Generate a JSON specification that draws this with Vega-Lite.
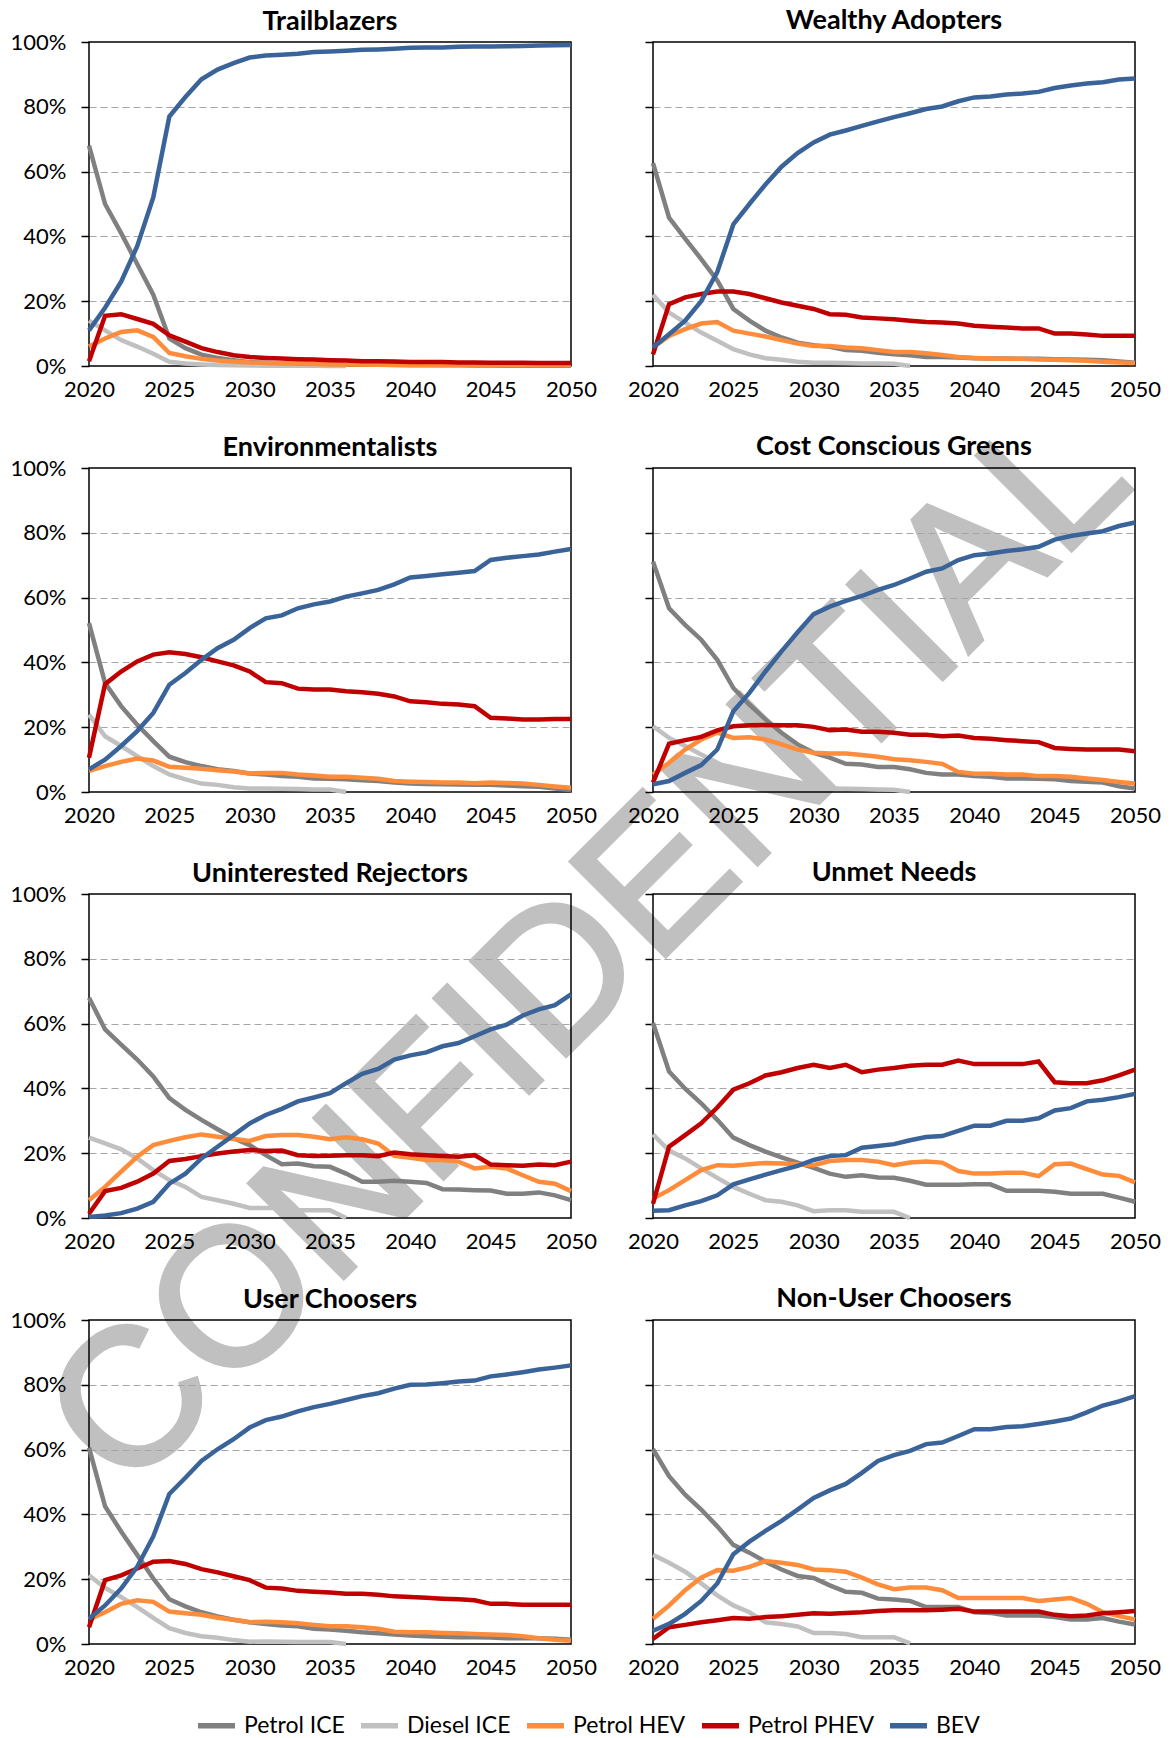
{
"$schema": "https://vega.github.io/schema/vega-lite/v6.json",
"background": "white",
"padding": {"left": 9, "top": 6, "right": 2, "bottom": 2},
"bounds": "flush",
"columns": 2,
"spacing": {"row": 102, "column": 82},
"config": {
  "font": "Lato",
  "view": {"stroke": "#000000", "strokeWidth": 1.5},
  "title": {"font": "Lato", "fontSize": 27, "fontWeight": "bold", "color": "#000000", "anchor": "middle", "frame": "group"},
  "axisX": {"labelFont": "Lato", "labelFontSize": 22, "labelColor": "#000000", "ticks": false, "grid": false, "domain": false, "labelFlush": false, "labelPadding": 13, "labelOverlap": false},
  "axisY": {"labelFont": "Lato", "labelFontSize": 22, "labelColor": "#000000", "tickSize": 8, "tickColor": "#000000", "tickWidth": 1.5, "labelPadding": 15, "domain": false, "grid": true, "gridColor": "#A6A6A6", "gridDash": [7, 4], "gridWidth": 1.2},
  "legend": {"orient": "bottom", "direction": "horizontal", "symbolType": "stroke", "symbolStrokeWidth": 5.5, "symbolSize": 1369, "labelFont": "Lato", "labelFontSize": 23, "labelColor": "#000000", "labelOffset": 6, "columnPadding": 5, "offset": 25, "layout": {"bottom": {"anchor": "middle"}}}
},
"resolve": {"scale": {"color": "shared"}, "legend": {"color": "shared"}},
"datasets": {
"tb": [
{"k":"Petrol ICE","x":2020,"v":68},{"k":"Petrol ICE","x":2021,"v":50},{"k":"Petrol ICE","x":2022,"v":41},{"k":"Petrol ICE","x":2023,"v":31.5},{"k":"Petrol ICE","x":2024,"v":22},{"k":"Petrol ICE","x":2025,"v":8.5},{"k":"Petrol ICE","x":2026,"v":5.5},{"k":"Petrol ICE","x":2027,"v":3.5},{"k":"Petrol ICE","x":2028,"v":2.5},{"k":"Petrol ICE","x":2029,"v":1.8},{"k":"Petrol ICE","x":2030,"v":1.2},{"k":"Petrol ICE","x":2031,"v":1},{"k":"Petrol ICE","x":2032,"v":0.8},{"k":"Petrol ICE","x":2033,"v":0.7},{"k":"Petrol ICE","x":2034,"v":0.6},{"k":"Petrol ICE","x":2035,"v":0.5},{"k":"Petrol ICE","x":2036,"v":0.45},{"k":"Petrol ICE","x":2037,"v":0.4},{"k":"Petrol ICE","x":2038,"v":0.35},{"k":"Petrol ICE","x":2039,"v":0.3},{"k":"Petrol ICE","x":2040,"v":0.25},{"k":"Petrol ICE","x":2041,"v":0.2},{"k":"Petrol ICE","x":2042,"v":0.2},{"k":"Petrol ICE","x":2043,"v":0.2},{"k":"Petrol ICE","x":2044,"v":0.15},{"k":"Petrol ICE","x":2045,"v":0.15},{"k":"Petrol ICE","x":2046,"v":0.1},{"k":"Petrol ICE","x":2047,"v":0.1},{"k":"Petrol ICE","x":2048,"v":0.1},{"k":"Petrol ICE","x":2049,"v":0.1},{"k":"Petrol ICE","x":2050,"v":0.1},
{"k":"Diesel ICE","x":2020,"v":14},{"k":"Diesel ICE","x":2021,"v":11},{"k":"Diesel ICE","x":2022,"v":8},{"k":"Diesel ICE","x":2023,"v":6},{"k":"Diesel ICE","x":2024,"v":3.8},{"k":"Diesel ICE","x":2025,"v":1.3},{"k":"Diesel ICE","x":2026,"v":0.8},{"k":"Diesel ICE","x":2027,"v":0.5},{"k":"Diesel ICE","x":2028,"v":0.3},{"k":"Diesel ICE","x":2029,"v":0.2},{"k":"Diesel ICE","x":2030,"v":0.15},{"k":"Diesel ICE","x":2031,"v":0.1},{"k":"Diesel ICE","x":2032,"v":0.1},{"k":"Diesel ICE","x":2033,"v":0.08},{"k":"Diesel ICE","x":2034,"v":0.05},{"k":"Diesel ICE","x":2035,"v":0.03},{"k":"Diesel ICE","x":2036,"v":0},
{"k":"Petrol HEV","x":2020,"v":6},{"k":"Petrol HEV","x":2021,"v":8.5},{"k":"Petrol HEV","x":2022,"v":10.5},{"k":"Petrol HEV","x":2023,"v":11},{"k":"Petrol HEV","x":2024,"v":9},{"k":"Petrol HEV","x":2025,"v":4},{"k":"Petrol HEV","x":2026,"v":3},{"k":"Petrol HEV","x":2027,"v":2.2},{"k":"Petrol HEV","x":2028,"v":1.7},{"k":"Petrol HEV","x":2029,"v":1.4},{"k":"Petrol HEV","x":2030,"v":1.1},{"k":"Petrol HEV","x":2031,"v":0.9},{"k":"Petrol HEV","x":2032,"v":0.8},{"k":"Petrol HEV","x":2033,"v":0.7},{"k":"Petrol HEV","x":2034,"v":0.6},{"k":"Petrol HEV","x":2035,"v":0.5},{"k":"Petrol HEV","x":2036,"v":0.5},{"k":"Petrol HEV","x":2037,"v":0.45},{"k":"Petrol HEV","x":2038,"v":0.4},{"k":"Petrol HEV","x":2039,"v":0.4},{"k":"Petrol HEV","x":2040,"v":0.35},{"k":"Petrol HEV","x":2041,"v":0.35},{"k":"Petrol HEV","x":2042,"v":0.3},{"k":"Petrol HEV","x":2043,"v":0.3},{"k":"Petrol HEV","x":2044,"v":0.3},{"k":"Petrol HEV","x":2045,"v":0.25},{"k":"Petrol HEV","x":2046,"v":0.25},{"k":"Petrol HEV","x":2047,"v":0.25},{"k":"Petrol HEV","x":2048,"v":0.2},{"k":"Petrol HEV","x":2049,"v":0.2},{"k":"Petrol HEV","x":2050,"v":0.2},
{"k":"Petrol PHEV","x":2020,"v":1.5},{"k":"Petrol PHEV","x":2021,"v":15.5},{"k":"Petrol PHEV","x":2022,"v":16},{"k":"Petrol PHEV","x":2023,"v":14.5},{"k":"Petrol PHEV","x":2024,"v":13},{"k":"Petrol PHEV","x":2025,"v":9.5},{"k":"Petrol PHEV","x":2026,"v":7.5},{"k":"Petrol PHEV","x":2027,"v":5.5},{"k":"Petrol PHEV","x":2028,"v":4.3},{"k":"Petrol PHEV","x":2029,"v":3.3},{"k":"Petrol PHEV","x":2030,"v":2.8},{"k":"Petrol PHEV","x":2031,"v":2.5},{"k":"Petrol PHEV","x":2032,"v":2.3},{"k":"Petrol PHEV","x":2033,"v":2.1},{"k":"Petrol PHEV","x":2034,"v":2},{"k":"Petrol PHEV","x":2035,"v":1.8},{"k":"Petrol PHEV","x":2036,"v":1.7},{"k":"Petrol PHEV","x":2037,"v":1.5},{"k":"Petrol PHEV","x":2038,"v":1.5},{"k":"Petrol PHEV","x":2039,"v":1.4},{"k":"Petrol PHEV","x":2040,"v":1.2},{"k":"Petrol PHEV","x":2041,"v":1.2},{"k":"Petrol PHEV","x":2042,"v":1.2},{"k":"Petrol PHEV","x":2043,"v":1.1},{"k":"Petrol PHEV","x":2044,"v":1.1},{"k":"Petrol PHEV","x":2045,"v":1},{"k":"Petrol PHEV","x":2046,"v":1},{"k":"Petrol PHEV","x":2047,"v":1},{"k":"Petrol PHEV","x":2048,"v":0.9},{"k":"Petrol PHEV","x":2049,"v":0.9},{"k":"Petrol PHEV","x":2050,"v":0.9},
{"k":"BEV","x":2020,"v":11},{"k":"BEV","x":2021,"v":18},{"k":"BEV","x":2022,"v":26},{"k":"BEV","x":2023,"v":37},{"k":"BEV","x":2024,"v":52},{"k":"BEV","x":2025,"v":77},{"k":"BEV","x":2026,"v":83},{"k":"BEV","x":2027,"v":88.5},{"k":"BEV","x":2028,"v":91.5},{"k":"BEV","x":2029,"v":93.5},{"k":"BEV","x":2030,"v":95.2},{"k":"BEV","x":2031,"v":95.8},{"k":"BEV","x":2032,"v":96.1},{"k":"BEV","x":2033,"v":96.4},{"k":"BEV","x":2034,"v":96.9},{"k":"BEV","x":2035,"v":97.1},{"k":"BEV","x":2036,"v":97.3},{"k":"BEV","x":2037,"v":97.6},{"k":"BEV","x":2038,"v":97.7},{"k":"BEV","x":2039,"v":97.9},{"k":"BEV","x":2040,"v":98.2},{"k":"BEV","x":2041,"v":98.3},{"k":"BEV","x":2042,"v":98.3},{"k":"BEV","x":2043,"v":98.5},{"k":"BEV","x":2044,"v":98.6},{"k":"BEV","x":2045,"v":98.6},{"k":"BEV","x":2046,"v":98.7},{"k":"BEV","x":2047,"v":98.8},{"k":"BEV","x":2048,"v":98.9},{"k":"BEV","x":2049,"v":99},{"k":"BEV","x":2050,"v":99.1}
],
"wa": [
{"k":"Petrol ICE","x":2020,"v":62.6},{"k":"Petrol ICE","x":2021,"v":45.8},{"k":"Petrol ICE","x":2022,"v":39.3},{"k":"Petrol ICE","x":2023,"v":33},{"k":"Petrol ICE","x":2024,"v":26.4},{"k":"Petrol ICE","x":2025,"v":17.6},{"k":"Petrol ICE","x":2026,"v":14},{"k":"Petrol ICE","x":2027,"v":10.9},{"k":"Petrol ICE","x":2028,"v":8.8},{"k":"Petrol ICE","x":2029,"v":7.2},{"k":"Petrol ICE","x":2030,"v":6.4},{"k":"Petrol ICE","x":2031,"v":5.9},{"k":"Petrol ICE","x":2032,"v":4.9},{"k":"Petrol ICE","x":2033,"v":4.7},{"k":"Petrol ICE","x":2034,"v":4.1},{"k":"Petrol ICE","x":2035,"v":3.6},{"k":"Petrol ICE","x":2036,"v":3.3},{"k":"Petrol ICE","x":2037,"v":2.8},{"k":"Petrol ICE","x":2038,"v":2.8},{"k":"Petrol ICE","x":2039,"v":2.6},{"k":"Petrol ICE","x":2040,"v":2.4},{"k":"Petrol ICE","x":2041,"v":2.3},{"k":"Petrol ICE","x":2042,"v":2.3},{"k":"Petrol ICE","x":2043,"v":2.2},{"k":"Petrol ICE","x":2044,"v":2.2},{"k":"Petrol ICE","x":2045,"v":2.1},{"k":"Petrol ICE","x":2046,"v":2},{"k":"Petrol ICE","x":2047,"v":1.9},{"k":"Petrol ICE","x":2048,"v":1.8},{"k":"Petrol ICE","x":2049,"v":1.4},{"k":"Petrol ICE","x":2050,"v":1},
{"k":"Diesel ICE","x":2020,"v":22},{"k":"Diesel ICE","x":2021,"v":16.5},{"k":"Diesel ICE","x":2022,"v":13.4},{"k":"Diesel ICE","x":2023,"v":10.3},{"k":"Diesel ICE","x":2024,"v":7.8},{"k":"Diesel ICE","x":2025,"v":5.2},{"k":"Diesel ICE","x":2026,"v":3.6},{"k":"Diesel ICE","x":2027,"v":2.4},{"k":"Diesel ICE","x":2028,"v":1.9},{"k":"Diesel ICE","x":2029,"v":1.3},{"k":"Diesel ICE","x":2030,"v":1},{"k":"Diesel ICE","x":2031,"v":1},{"k":"Diesel ICE","x":2032,"v":0.9},{"k":"Diesel ICE","x":2033,"v":0.8},{"k":"Diesel ICE","x":2034,"v":0.8},{"k":"Diesel ICE","x":2035,"v":0.7},{"k":"Diesel ICE","x":2036,"v":0},
{"k":"Petrol HEV","x":2020,"v":5.7},{"k":"Petrol HEV","x":2021,"v":9.3},{"k":"Petrol HEV","x":2022,"v":11.4},{"k":"Petrol HEV","x":2023,"v":13.1},{"k":"Petrol HEV","x":2024,"v":13.6},{"k":"Petrol HEV","x":2025,"v":10.9},{"k":"Petrol HEV","x":2026,"v":10},{"k":"Petrol HEV","x":2027,"v":9.1},{"k":"Petrol HEV","x":2028,"v":8},{"k":"Petrol HEV","x":2029,"v":6.9},{"k":"Petrol HEV","x":2030,"v":6.2},{"k":"Petrol HEV","x":2031,"v":6.2},{"k":"Petrol HEV","x":2032,"v":5.7},{"k":"Petrol HEV","x":2033,"v":5.5},{"k":"Petrol HEV","x":2034,"v":4.9},{"k":"Petrol HEV","x":2035,"v":4.3},{"k":"Petrol HEV","x":2036,"v":4.3},{"k":"Petrol HEV","x":2037,"v":3.9},{"k":"Petrol HEV","x":2038,"v":3.4},{"k":"Petrol HEV","x":2039,"v":2.8},{"k":"Petrol HEV","x":2040,"v":2.5},{"k":"Petrol HEV","x":2041,"v":2.3},{"k":"Petrol HEV","x":2042,"v":2.2},{"k":"Petrol HEV","x":2043,"v":2.2},{"k":"Petrol HEV","x":2044,"v":2},{"k":"Petrol HEV","x":2045,"v":1.9},{"k":"Petrol HEV","x":2046,"v":1.8},{"k":"Petrol HEV","x":2047,"v":1.6},{"k":"Petrol HEV","x":2048,"v":1.3},{"k":"Petrol HEV","x":2049,"v":1.1},{"k":"Petrol HEV","x":2050,"v":0.9},
{"k":"Petrol PHEV","x":2020,"v":3.6},{"k":"Petrol PHEV","x":2021,"v":19.1},{"k":"Petrol PHEV","x":2022,"v":21.2},{"k":"Petrol PHEV","x":2023,"v":22.2},{"k":"Petrol PHEV","x":2024,"v":23},{"k":"Petrol PHEV","x":2025,"v":23},{"k":"Petrol PHEV","x":2026,"v":22.2},{"k":"Petrol PHEV","x":2027,"v":20.9},{"k":"Petrol PHEV","x":2028,"v":19.6},{"k":"Petrol PHEV","x":2029,"v":18.6},{"k":"Petrol PHEV","x":2030,"v":17.6},{"k":"Petrol PHEV","x":2031,"v":16},{"k":"Petrol PHEV","x":2032,"v":15.8},{"k":"Petrol PHEV","x":2033,"v":15},{"k":"Petrol PHEV","x":2034,"v":14.7},{"k":"Petrol PHEV","x":2035,"v":14.4},{"k":"Petrol PHEV","x":2036,"v":14},{"k":"Petrol PHEV","x":2037,"v":13.6},{"k":"Petrol PHEV","x":2038,"v":13.4},{"k":"Petrol PHEV","x":2039,"v":13.1},{"k":"Petrol PHEV","x":2040,"v":12.4},{"k":"Petrol PHEV","x":2041,"v":12.1},{"k":"Petrol PHEV","x":2042,"v":11.9},{"k":"Petrol PHEV","x":2043,"v":11.6},{"k":"Petrol PHEV","x":2044,"v":11.6},{"k":"Petrol PHEV","x":2045,"v":10},{"k":"Petrol PHEV","x":2046,"v":10},{"k":"Petrol PHEV","x":2047,"v":9.7},{"k":"Petrol PHEV","x":2048,"v":9.3},{"k":"Petrol PHEV","x":2049,"v":9.3},{"k":"Petrol PHEV","x":2050,"v":9.3},
{"k":"BEV","x":2020,"v":5.7},{"k":"BEV","x":2021,"v":9.8},{"k":"BEV","x":2022,"v":14},{"k":"BEV","x":2023,"v":20},{"k":"BEV","x":2024,"v":29},{"k":"BEV","x":2025,"v":43.7},{"k":"BEV","x":2026,"v":50},{"k":"BEV","x":2027,"v":56},{"k":"BEV","x":2028,"v":61.5},{"k":"BEV","x":2029,"v":65.7},{"k":"BEV","x":2030,"v":69},{"k":"BEV","x":2031,"v":71.4},{"k":"BEV","x":2032,"v":72.7},{"k":"BEV","x":2033,"v":74.1},{"k":"BEV","x":2034,"v":75.5},{"k":"BEV","x":2035,"v":76.8},{"k":"BEV","x":2036,"v":78},{"k":"BEV","x":2037,"v":79.3},{"k":"BEV","x":2038,"v":80.1},{"k":"BEV","x":2039,"v":81.7},{"k":"BEV","x":2040,"v":82.9},{"k":"BEV","x":2041,"v":83.2},{"k":"BEV","x":2042,"v":83.8},{"k":"BEV","x":2043,"v":84.1},{"k":"BEV","x":2044,"v":84.6},{"k":"BEV","x":2045,"v":85.8},{"k":"BEV","x":2046,"v":86.6},{"k":"BEV","x":2047,"v":87.2},{"k":"BEV","x":2048,"v":87.6},{"k":"BEV","x":2049,"v":88.4},{"k":"BEV","x":2050,"v":88.7}
],
"en": [
{"k":"Petrol ICE","x":2020,"v":52.1},{"k":"Petrol ICE","x":2021,"v":33.6},{"k":"Petrol ICE","x":2022,"v":26.5},{"k":"Petrol ICE","x":2023,"v":20.8},{"k":"Petrol ICE","x":2024,"v":15.7},{"k":"Petrol ICE","x":2025,"v":10.9},{"k":"Petrol ICE","x":2026,"v":9.2},{"k":"Petrol ICE","x":2027,"v":8},{"k":"Petrol ICE","x":2028,"v":7},{"k":"Petrol ICE","x":2029,"v":6.5},{"k":"Petrol ICE","x":2030,"v":5.7},{"k":"Petrol ICE","x":2031,"v":5.4},{"k":"Petrol ICE","x":2032,"v":4.9},{"k":"Petrol ICE","x":2033,"v":4.7},{"k":"Petrol ICE","x":2034,"v":4.2},{"k":"Petrol ICE","x":2035,"v":4.1},{"k":"Petrol ICE","x":2036,"v":3.9},{"k":"Petrol ICE","x":2037,"v":3.6},{"k":"Petrol ICE","x":2038,"v":3.4},{"k":"Petrol ICE","x":2039,"v":2.9},{"k":"Petrol ICE","x":2040,"v":2.6},{"k":"Petrol ICE","x":2041,"v":2.5},{"k":"Petrol ICE","x":2042,"v":2.4},{"k":"Petrol ICE","x":2043,"v":2.3},{"k":"Petrol ICE","x":2044,"v":2.2},{"k":"Petrol ICE","x":2045,"v":2.2},{"k":"Petrol ICE","x":2046,"v":2},{"k":"Petrol ICE","x":2047,"v":1.8},{"k":"Petrol ICE","x":2048,"v":1.6},{"k":"Petrol ICE","x":2049,"v":1.1},{"k":"Petrol ICE","x":2050,"v":0.6},
{"k":"Diesel ICE","x":2020,"v":23.9},{"k":"Diesel ICE","x":2021,"v":17.2},{"k":"Diesel ICE","x":2022,"v":14.2},{"k":"Diesel ICE","x":2023,"v":11.1},{"k":"Diesel ICE","x":2024,"v":8},{"k":"Diesel ICE","x":2025,"v":5.4},{"k":"Diesel ICE","x":2026,"v":3.9},{"k":"Diesel ICE","x":2027,"v":2.6},{"k":"Diesel ICE","x":2028,"v":2.2},{"k":"Diesel ICE","x":2029,"v":1.5},{"k":"Diesel ICE","x":2030,"v":1.1},{"k":"Diesel ICE","x":2031,"v":1.1},{"k":"Diesel ICE","x":2032,"v":1},{"k":"Diesel ICE","x":2033,"v":0.9},{"k":"Diesel ICE","x":2034,"v":0.8},{"k":"Diesel ICE","x":2035,"v":0.8},{"k":"Diesel ICE","x":2036,"v":0},
{"k":"Petrol HEV","x":2020,"v":6.5},{"k":"Petrol HEV","x":2021,"v":8},{"k":"Petrol HEV","x":2022,"v":9.3},{"k":"Petrol HEV","x":2023,"v":10.3},{"k":"Petrol HEV","x":2024,"v":9.7},{"k":"Petrol HEV","x":2025,"v":7.8},{"k":"Petrol HEV","x":2026,"v":7.5},{"k":"Petrol HEV","x":2027,"v":7.2},{"k":"Petrol HEV","x":2028,"v":6.7},{"k":"Petrol HEV","x":2029,"v":6.3},{"k":"Petrol HEV","x":2030,"v":5.7},{"k":"Petrol HEV","x":2031,"v":5.9},{"k":"Petrol HEV","x":2032,"v":5.9},{"k":"Petrol HEV","x":2033,"v":5.4},{"k":"Petrol HEV","x":2034,"v":5.1},{"k":"Petrol HEV","x":2035,"v":4.7},{"k":"Petrol HEV","x":2036,"v":4.7},{"k":"Petrol HEV","x":2037,"v":4.4},{"k":"Petrol HEV","x":2038,"v":4.1},{"k":"Petrol HEV","x":2039,"v":3.4},{"k":"Petrol HEV","x":2040,"v":3.2},{"k":"Petrol HEV","x":2041,"v":3.1},{"k":"Petrol HEV","x":2042,"v":2.9},{"k":"Petrol HEV","x":2043,"v":2.9},{"k":"Petrol HEV","x":2044,"v":2.7},{"k":"Petrol HEV","x":2045,"v":2.9},{"k":"Petrol HEV","x":2046,"v":2.8},{"k":"Petrol HEV","x":2047,"v":2.6},{"k":"Petrol HEV","x":2048,"v":2.2},{"k":"Petrol HEV","x":2049,"v":1.7},{"k":"Petrol HEV","x":2050,"v":1.3},
{"k":"Petrol PHEV","x":2020,"v":10.6},{"k":"Petrol PHEV","x":2021,"v":33.3},{"k":"Petrol PHEV","x":2022,"v":37.2},{"k":"Petrol PHEV","x":2023,"v":40.3},{"k":"Petrol PHEV","x":2024,"v":42.4},{"k":"Petrol PHEV","x":2025,"v":43.1},{"k":"Petrol PHEV","x":2026,"v":42.6},{"k":"Petrol PHEV","x":2027,"v":41.6},{"k":"Petrol PHEV","x":2028,"v":40.3},{"k":"Petrol PHEV","x":2029,"v":39.1},{"k":"Petrol PHEV","x":2030,"v":37.2},{"k":"Petrol PHEV","x":2031,"v":33.9},{"k":"Petrol PHEV","x":2032,"v":33.6},{"k":"Petrol PHEV","x":2033,"v":31.9},{"k":"Petrol PHEV","x":2034,"v":31.6},{"k":"Petrol PHEV","x":2035,"v":31.6},{"k":"Petrol PHEV","x":2036,"v":31.1},{"k":"Petrol PHEV","x":2037,"v":30.8},{"k":"Petrol PHEV","x":2038,"v":30.3},{"k":"Petrol PHEV","x":2039,"v":29.5},{"k":"Petrol PHEV","x":2040,"v":28},{"k":"Petrol PHEV","x":2041,"v":27.7},{"k":"Petrol PHEV","x":2042,"v":27.2},{"k":"Petrol PHEV","x":2043,"v":27},{"k":"Petrol PHEV","x":2044,"v":26.5},{"k":"Petrol PHEV","x":2045,"v":22.9},{"k":"Petrol PHEV","x":2046,"v":22.7},{"k":"Petrol PHEV","x":2047,"v":22.4},{"k":"Petrol PHEV","x":2048,"v":22.4},{"k":"Petrol PHEV","x":2049,"v":22.5},{"k":"Petrol PHEV","x":2050,"v":22.5},
{"k":"BEV","x":2020,"v":7},{"k":"BEV","x":2021,"v":10},{"k":"BEV","x":2022,"v":14.2},{"k":"BEV","x":2023,"v":18.8},{"k":"BEV","x":2024,"v":24.4},{"k":"BEV","x":2025,"v":33.1},{"k":"BEV","x":2026,"v":36.7},{"k":"BEV","x":2027,"v":40.8},{"k":"BEV","x":2028,"v":44.4},{"k":"BEV","x":2029,"v":47},{"k":"BEV","x":2030,"v":50.6},{"k":"BEV","x":2031,"v":53.6},{"k":"BEV","x":2032,"v":54.5},{"k":"BEV","x":2033,"v":56.7},{"k":"BEV","x":2034,"v":57.9},{"k":"BEV","x":2035,"v":58.8},{"k":"BEV","x":2036,"v":60.3},{"k":"BEV","x":2037,"v":61.3},{"k":"BEV","x":2038,"v":62.4},{"k":"BEV","x":2039,"v":64.1},{"k":"BEV","x":2040,"v":66.2},{"k":"BEV","x":2041,"v":66.7},{"k":"BEV","x":2042,"v":67.2},{"k":"BEV","x":2043,"v":67.7},{"k":"BEV","x":2044,"v":68.2},{"k":"BEV","x":2045,"v":71.6},{"k":"BEV","x":2046,"v":72.3},{"k":"BEV","x":2047,"v":72.8},{"k":"BEV","x":2048,"v":73.3},{"k":"BEV","x":2049,"v":74.2},{"k":"BEV","x":2050,"v":75}
],
"ccg": [
{"k":"Petrol ICE","x":2020,"v":71.1},{"k":"Petrol ICE","x":2021,"v":56.7},{"k":"Petrol ICE","x":2022,"v":51.6},{"k":"Petrol ICE","x":2023,"v":47},{"k":"Petrol ICE","x":2024,"v":40.8},{"k":"Petrol ICE","x":2025,"v":32.1},{"k":"Petrol ICE","x":2026,"v":27},{"k":"Petrol ICE","x":2027,"v":22.4},{"k":"Petrol ICE","x":2028,"v":18.3},{"k":"Petrol ICE","x":2029,"v":14.7},{"k":"Petrol ICE","x":2030,"v":12.1},{"k":"Petrol ICE","x":2031,"v":10.6},{"k":"Petrol ICE","x":2032,"v":8.7},{"k":"Petrol ICE","x":2033,"v":8.5},{"k":"Petrol ICE","x":2034,"v":7.7},{"k":"Petrol ICE","x":2035,"v":7.7},{"k":"Petrol ICE","x":2036,"v":7},{"k":"Petrol ICE","x":2037,"v":5.9},{"k":"Petrol ICE","x":2038,"v":5.4},{"k":"Petrol ICE","x":2039,"v":5.4},{"k":"Petrol ICE","x":2040,"v":4.9},{"k":"Petrol ICE","x":2041,"v":4.7},{"k":"Petrol ICE","x":2042,"v":4.2},{"k":"Petrol ICE","x":2043,"v":4.2},{"k":"Petrol ICE","x":2044,"v":4.1},{"k":"Petrol ICE","x":2045,"v":3.9},{"k":"Petrol ICE","x":2046,"v":3.4},{"k":"Petrol ICE","x":2047,"v":3.2},{"k":"Petrol ICE","x":2048,"v":2.9},{"k":"Petrol ICE","x":2049,"v":1.8},{"k":"Petrol ICE","x":2050,"v":1.1},
{"k":"Diesel ICE","x":2020,"v":20.3},{"k":"Diesel ICE","x":2021,"v":16.7},{"k":"Diesel ICE","x":2022,"v":14.2},{"k":"Diesel ICE","x":2023,"v":11.6},{"k":"Diesel ICE","x":2024,"v":9},{"k":"Diesel ICE","x":2025,"v":6.5},{"k":"Diesel ICE","x":2026,"v":4.9},{"k":"Diesel ICE","x":2027,"v":3.6},{"k":"Diesel ICE","x":2028,"v":2.9},{"k":"Diesel ICE","x":2029,"v":2},{"k":"Diesel ICE","x":2030,"v":1.3},{"k":"Diesel ICE","x":2031,"v":1.1},{"k":"Diesel ICE","x":2032,"v":1},{"k":"Diesel ICE","x":2033,"v":0.9},{"k":"Diesel ICE","x":2034,"v":0.8},{"k":"Diesel ICE","x":2035,"v":0.7},{"k":"Diesel ICE","x":2036,"v":0},
{"k":"Petrol HEV","x":2020,"v":5.4},{"k":"Petrol HEV","x":2021,"v":9},{"k":"Petrol HEV","x":2022,"v":13.1},{"k":"Petrol HEV","x":2023,"v":16.2},{"k":"Petrol HEV","x":2024,"v":18.3},{"k":"Petrol HEV","x":2025,"v":16.7},{"k":"Petrol HEV","x":2026,"v":16.9},{"k":"Petrol HEV","x":2027,"v":16.2},{"k":"Petrol HEV","x":2028,"v":14.7},{"k":"Petrol HEV","x":2029,"v":13.1},{"k":"Petrol HEV","x":2030,"v":12.1},{"k":"Petrol HEV","x":2031,"v":11.9},{"k":"Petrol HEV","x":2032,"v":11.9},{"k":"Petrol HEV","x":2033,"v":11.4},{"k":"Petrol HEV","x":2034,"v":10.9},{"k":"Petrol HEV","x":2035,"v":10.1},{"k":"Petrol HEV","x":2036,"v":9.8},{"k":"Petrol HEV","x":2037,"v":9.3},{"k":"Petrol HEV","x":2038,"v":8.7},{"k":"Petrol HEV","x":2039,"v":6.2},{"k":"Petrol HEV","x":2040,"v":5.6},{"k":"Petrol HEV","x":2041,"v":5.6},{"k":"Petrol HEV","x":2042,"v":5.4},{"k":"Petrol HEV","x":2043,"v":5.4},{"k":"Petrol HEV","x":2044,"v":4.9},{"k":"Petrol HEV","x":2045,"v":4.9},{"k":"Petrol HEV","x":2046,"v":4.7},{"k":"Petrol HEV","x":2047,"v":4.2},{"k":"Petrol HEV","x":2048,"v":3.7},{"k":"Petrol HEV","x":2049,"v":3.1},{"k":"Petrol HEV","x":2050,"v":2.6},
{"k":"Petrol PHEV","x":2020,"v":2.9},{"k":"Petrol PHEV","x":2021,"v":14.9},{"k":"Petrol PHEV","x":2022,"v":16},{"k":"Petrol PHEV","x":2023,"v":17},{"k":"Petrol PHEV","x":2024,"v":19},{"k":"Petrol PHEV","x":2025,"v":20.3},{"k":"Petrol PHEV","x":2026,"v":20.6},{"k":"Petrol PHEV","x":2027,"v":20.7},{"k":"Petrol PHEV","x":2028,"v":20.6},{"k":"Petrol PHEV","x":2029,"v":20.6},{"k":"Petrol PHEV","x":2030,"v":20.1},{"k":"Petrol PHEV","x":2031,"v":19.1},{"k":"Petrol PHEV","x":2032,"v":19.3},{"k":"Petrol PHEV","x":2033,"v":18.6},{"k":"Petrol PHEV","x":2034,"v":18.6},{"k":"Petrol PHEV","x":2035,"v":18.3},{"k":"Petrol PHEV","x":2036,"v":17.7},{"k":"Petrol PHEV","x":2037,"v":17.7},{"k":"Petrol PHEV","x":2038,"v":17.2},{"k":"Petrol PHEV","x":2039,"v":17.4},{"k":"Petrol PHEV","x":2040,"v":16.7},{"k":"Petrol PHEV","x":2041,"v":16.4},{"k":"Petrol PHEV","x":2042,"v":16},{"k":"Petrol PHEV","x":2043,"v":15.7},{"k":"Petrol PHEV","x":2044,"v":15.4},{"k":"Petrol PHEV","x":2045,"v":13.6},{"k":"Petrol PHEV","x":2046,"v":13.3},{"k":"Petrol PHEV","x":2047,"v":13.1},{"k":"Petrol PHEV","x":2048,"v":13.1},{"k":"Petrol PHEV","x":2049,"v":13.1},{"k":"Petrol PHEV","x":2050,"v":12.6},
{"k":"BEV","x":2020,"v":2.4},{"k":"BEV","x":2021,"v":3.4},{"k":"BEV","x":2022,"v":5.9},{"k":"BEV","x":2023,"v":8.3},{"k":"BEV","x":2024,"v":13.1},{"k":"BEV","x":2025,"v":24.9},{"k":"BEV","x":2026,"v":30.6},{"k":"BEV","x":2027,"v":37.2},{"k":"BEV","x":2028,"v":43.4},{"k":"BEV","x":2029,"v":49.3},{"k":"BEV","x":2030,"v":54.9},{"k":"BEV","x":2031,"v":57.2},{"k":"BEV","x":2032,"v":59},{"k":"BEV","x":2033,"v":60.5},{"k":"BEV","x":2034,"v":62.4},{"k":"BEV","x":2035,"v":63.9},{"k":"BEV","x":2036,"v":65.9},{"k":"BEV","x":2037,"v":68},{"k":"BEV","x":2038,"v":69},{"k":"BEV","x":2039,"v":71.6},{"k":"BEV","x":2040,"v":73.1},{"k":"BEV","x":2041,"v":73.6},{"k":"BEV","x":2042,"v":74.4},{"k":"BEV","x":2043,"v":74.9},{"k":"BEV","x":2044,"v":75.7},{"k":"BEV","x":2045,"v":77.9},{"k":"BEV","x":2046,"v":79},{"k":"BEV","x":2047,"v":79.8},{"k":"BEV","x":2048,"v":80.5},{"k":"BEV","x":2049,"v":82.1},{"k":"BEV","x":2050,"v":83.2}
],
"ur": [
{"k":"Petrol ICE","x":2020,"v":68},{"k":"Petrol ICE","x":2021,"v":58.2},{"k":"Petrol ICE","x":2022,"v":53.5},{"k":"Petrol ICE","x":2023,"v":48.9},{"k":"Petrol ICE","x":2024,"v":43.7},{"k":"Petrol ICE","x":2025,"v":37},{"k":"Petrol ICE","x":2026,"v":33.4},{"k":"Petrol ICE","x":2027,"v":30.3},{"k":"Petrol ICE","x":2028,"v":27.4},{"k":"Petrol ICE","x":2029,"v":24.6},{"k":"Petrol ICE","x":2030,"v":22.5},{"k":"Petrol ICE","x":2031,"v":19.4},{"k":"Petrol ICE","x":2032,"v":16.6},{"k":"Petrol ICE","x":2033,"v":16.8},{"k":"Petrol ICE","x":2034,"v":16},{"k":"Petrol ICE","x":2035,"v":15.8},{"k":"Petrol ICE","x":2036,"v":13.7},{"k":"Petrol ICE","x":2037,"v":11.2},{"k":"Petrol ICE","x":2038,"v":11.2},{"k":"Petrol ICE","x":2039,"v":11.5},{"k":"Petrol ICE","x":2040,"v":11.2},{"k":"Petrol ICE","x":2041,"v":10.8},{"k":"Petrol ICE","x":2042,"v":8.9},{"k":"Petrol ICE","x":2043,"v":8.8},{"k":"Petrol ICE","x":2044,"v":8.6},{"k":"Petrol ICE","x":2045,"v":8.5},{"k":"Petrol ICE","x":2046,"v":7.5},{"k":"Petrol ICE","x":2047,"v":7.5},{"k":"Petrol ICE","x":2048,"v":7.9},{"k":"Petrol ICE","x":2049,"v":7},{"k":"Petrol ICE","x":2050,"v":5.5},
{"k":"Diesel ICE","x":2020,"v":24.8},{"k":"Diesel ICE","x":2021,"v":23},{"k":"Diesel ICE","x":2022,"v":21.2},{"k":"Diesel ICE","x":2023,"v":18.4},{"k":"Diesel ICE","x":2024,"v":14.8},{"k":"Diesel ICE","x":2025,"v":11.7},{"k":"Diesel ICE","x":2026,"v":9.6},{"k":"Diesel ICE","x":2027,"v":6.5},{"k":"Diesel ICE","x":2028,"v":5.5},{"k":"Diesel ICE","x":2029,"v":4.4},{"k":"Diesel ICE","x":2030,"v":3.1},{"k":"Diesel ICE","x":2031,"v":3.1},{"k":"Diesel ICE","x":2032,"v":3.1},{"k":"Diesel ICE","x":2033,"v":2.4},{"k":"Diesel ICE","x":2034,"v":2.4},{"k":"Diesel ICE","x":2035,"v":2.4},{"k":"Diesel ICE","x":2036,"v":0},
{"k":"Petrol HEV","x":2020,"v":5.5},{"k":"Petrol HEV","x":2021,"v":9.6},{"k":"Petrol HEV","x":2022,"v":14.3},{"k":"Petrol HEV","x":2023,"v":18.9},{"k":"Petrol HEV","x":2024,"v":22.5},{"k":"Petrol HEV","x":2025,"v":23.8},{"k":"Petrol HEV","x":2026,"v":24.9},{"k":"Petrol HEV","x":2027,"v":25.8},{"k":"Petrol HEV","x":2028,"v":25.1},{"k":"Petrol HEV","x":2029,"v":24.4},{"k":"Petrol HEV","x":2030,"v":23.8},{"k":"Petrol HEV","x":2031,"v":25.3},{"k":"Petrol HEV","x":2032,"v":25.6},{"k":"Petrol HEV","x":2033,"v":25.6},{"k":"Petrol HEV","x":2034,"v":25.1},{"k":"Petrol HEV","x":2035,"v":24.3},{"k":"Petrol HEV","x":2036,"v":24.9},{"k":"Petrol HEV","x":2037,"v":24.3},{"k":"Petrol HEV","x":2038,"v":23},{"k":"Petrol HEV","x":2039,"v":19.2},{"k":"Petrol HEV","x":2040,"v":18.6},{"k":"Petrol HEV","x":2041,"v":17.9},{"k":"Petrol HEV","x":2042,"v":17.9},{"k":"Petrol HEV","x":2043,"v":17.4},{"k":"Petrol HEV","x":2044,"v":15.3},{"k":"Petrol HEV","x":2045,"v":15.8},{"k":"Petrol HEV","x":2046,"v":15.3},{"k":"Petrol HEV","x":2047,"v":13.2},{"k":"Petrol HEV","x":2048,"v":11.2},{"k":"Petrol HEV","x":2049,"v":10.6},{"k":"Petrol HEV","x":2050,"v":8.3},
{"k":"Petrol PHEV","x":2020,"v":1.3},{"k":"Petrol PHEV","x":2021,"v":8.3},{"k":"Petrol PHEV","x":2022,"v":9.3},{"k":"Petrol PHEV","x":2023,"v":11.2},{"k":"Petrol PHEV","x":2024,"v":13.7},{"k":"Petrol PHEV","x":2025,"v":17.6},{"k":"Petrol PHEV","x":2026,"v":18.2},{"k":"Petrol PHEV","x":2027,"v":19.1},{"k":"Petrol PHEV","x":2028,"v":19.9},{"k":"Petrol PHEV","x":2029,"v":20.5},{"k":"Petrol PHEV","x":2030,"v":21},{"k":"Petrol PHEV","x":2031,"v":20.7},{"k":"Petrol PHEV","x":2032,"v":20.8},{"k":"Petrol PHEV","x":2033,"v":19.4},{"k":"Petrol PHEV","x":2034,"v":19.1},{"k":"Petrol PHEV","x":2035,"v":19.2},{"k":"Petrol PHEV","x":2036,"v":19.4},{"k":"Petrol PHEV","x":2037,"v":19.4},{"k":"Petrol PHEV","x":2038,"v":19.1},{"k":"Petrol PHEV","x":2039,"v":20.2},{"k":"Petrol PHEV","x":2040,"v":19.7},{"k":"Petrol PHEV","x":2041,"v":19.4},{"k":"Petrol PHEV","x":2042,"v":19.1},{"k":"Petrol PHEV","x":2043,"v":18.9},{"k":"Petrol PHEV","x":2044,"v":19.4},{"k":"Petrol PHEV","x":2045,"v":16.5},{"k":"Petrol PHEV","x":2046,"v":16.3},{"k":"Petrol PHEV","x":2047,"v":16.1},{"k":"Petrol PHEV","x":2048,"v":16.5},{"k":"Petrol PHEV","x":2049,"v":16.3},{"k":"Petrol PHEV","x":2050,"v":17.4},
{"k":"BEV","x":2020,"v":0.3},{"k":"BEV","x":2021,"v":0.8},{"k":"BEV","x":2022,"v":1.5},{"k":"BEV","x":2023,"v":2.9},{"k":"BEV","x":2024,"v":5},{"k":"BEV","x":2025,"v":10.6},{"k":"BEV","x":2026,"v":13.7},{"k":"BEV","x":2027,"v":18.4},{"k":"BEV","x":2028,"v":22},{"k":"BEV","x":2029,"v":25.6},{"k":"BEV","x":2030,"v":29.2},{"k":"BEV","x":2031,"v":31.8},{"k":"BEV","x":2032,"v":33.7},{"k":"BEV","x":2033,"v":36},{"k":"BEV","x":2034,"v":37.2},{"k":"BEV","x":2035,"v":38.5},{"k":"BEV","x":2036,"v":41.6},{"k":"BEV","x":2037,"v":44.5},{"k":"BEV","x":2038,"v":46},{"k":"BEV","x":2039,"v":48.9},{"k":"BEV","x":2040,"v":50.2},{"k":"BEV","x":2041,"v":51.1},{"k":"BEV","x":2042,"v":53},{"k":"BEV","x":2043,"v":54},{"k":"BEV","x":2044,"v":56.1},{"k":"BEV","x":2045,"v":58.2},{"k":"BEV","x":2046,"v":59.7},{"k":"BEV","x":2047,"v":62.5},{"k":"BEV","x":2048,"v":64.4},{"k":"BEV","x":2049,"v":65.7},{"k":"BEV","x":2050,"v":69}
],
"un": [
{"k":"Petrol ICE","x":2020,"v":60.2},{"k":"Petrol ICE","x":2021,"v":45.2},{"k":"Petrol ICE","x":2022,"v":39.9},{"k":"Petrol ICE","x":2023,"v":35.4},{"k":"Petrol ICE","x":2024,"v":30.3},{"k":"Petrol ICE","x":2025,"v":24.8},{"k":"Petrol ICE","x":2026,"v":22.5},{"k":"Petrol ICE","x":2027,"v":20.5},{"k":"Petrol ICE","x":2028,"v":18.7},{"k":"Petrol ICE","x":2029,"v":17.1},{"k":"Petrol ICE","x":2030,"v":15.5},{"k":"Petrol ICE","x":2031,"v":13.7},{"k":"Petrol ICE","x":2032,"v":12.7},{"k":"Petrol ICE","x":2033,"v":13.2},{"k":"Petrol ICE","x":2034,"v":12.5},{"k":"Petrol ICE","x":2035,"v":12.4},{"k":"Petrol ICE","x":2036,"v":11.5},{"k":"Petrol ICE","x":2037,"v":10.3},{"k":"Petrol ICE","x":2038,"v":10.3},{"k":"Petrol ICE","x":2039,"v":10.3},{"k":"Petrol ICE","x":2040,"v":10.4},{"k":"Petrol ICE","x":2041,"v":10.4},{"k":"Petrol ICE","x":2042,"v":8.4},{"k":"Petrol ICE","x":2043,"v":8.4},{"k":"Petrol ICE","x":2044,"v":8.4},{"k":"Petrol ICE","x":2045,"v":8.1},{"k":"Petrol ICE","x":2046,"v":7.5},{"k":"Petrol ICE","x":2047,"v":7.5},{"k":"Petrol ICE","x":2048,"v":7.5},{"k":"Petrol ICE","x":2049,"v":6.3},{"k":"Petrol ICE","x":2050,"v":5},
{"k":"Diesel ICE","x":2020,"v":25.8},{"k":"Diesel ICE","x":2021,"v":20.8},{"k":"Diesel ICE","x":2022,"v":18.4},{"k":"Diesel ICE","x":2023,"v":15.3},{"k":"Diesel ICE","x":2024,"v":12.4},{"k":"Diesel ICE","x":2025,"v":9.6},{"k":"Diesel ICE","x":2026,"v":7.5},{"k":"Diesel ICE","x":2027,"v":5.5},{"k":"Diesel ICE","x":2028,"v":5},{"k":"Diesel ICE","x":2029,"v":3.9},{"k":"Diesel ICE","x":2030,"v":2.1},{"k":"Diesel ICE","x":2031,"v":2.4},{"k":"Diesel ICE","x":2032,"v":2.4},{"k":"Diesel ICE","x":2033,"v":1.9},{"k":"Diesel ICE","x":2034,"v":1.9},{"k":"Diesel ICE","x":2035,"v":1.9},{"k":"Diesel ICE","x":2036,"v":0},
{"k":"Petrol HEV","x":2020,"v":6},{"k":"Petrol HEV","x":2021,"v":8.6},{"k":"Petrol HEV","x":2022,"v":11.7},{"k":"Petrol HEV","x":2023,"v":14.8},{"k":"Petrol HEV","x":2024,"v":16.3},{"k":"Petrol HEV","x":2025,"v":16.1},{"k":"Petrol HEV","x":2026,"v":16.6},{"k":"Petrol HEV","x":2027,"v":17},{"k":"Petrol HEV","x":2028,"v":16.8},{"k":"Petrol HEV","x":2029,"v":16.6},{"k":"Petrol HEV","x":2030,"v":16.3},{"k":"Petrol HEV","x":2031,"v":17.6},{"k":"Petrol HEV","x":2032,"v":17.9},{"k":"Petrol HEV","x":2033,"v":17.9},{"k":"Petrol HEV","x":2034,"v":17.4},{"k":"Petrol HEV","x":2035,"v":16.3},{"k":"Petrol HEV","x":2036,"v":17.1},{"k":"Petrol HEV","x":2037,"v":17.4},{"k":"Petrol HEV","x":2038,"v":17.1},{"k":"Petrol HEV","x":2039,"v":14.5},{"k":"Petrol HEV","x":2040,"v":13.7},{"k":"Petrol HEV","x":2041,"v":13.7},{"k":"Petrol HEV","x":2042,"v":14},{"k":"Petrol HEV","x":2043,"v":14},{"k":"Petrol HEV","x":2044,"v":12.9},{"k":"Petrol HEV","x":2045,"v":16.6},{"k":"Petrol HEV","x":2046,"v":16.8},{"k":"Petrol HEV","x":2047,"v":15.1},{"k":"Petrol HEV","x":2048,"v":13.4},{"k":"Petrol HEV","x":2049,"v":13},{"k":"Petrol HEV","x":2050,"v":11},
{"k":"Petrol PHEV","x":2020,"v":4.4},{"k":"Petrol PHEV","x":2021,"v":22},{"k":"Petrol PHEV","x":2022,"v":25.6},{"k":"Petrol PHEV","x":2023,"v":29.2},{"k":"Petrol PHEV","x":2024,"v":34.1},{"k":"Petrol PHEV","x":2025,"v":39.6},{"k":"Petrol PHEV","x":2026,"v":41.6},{"k":"Petrol PHEV","x":2027,"v":44},{"k":"Petrol PHEV","x":2028,"v":45},{"k":"Petrol PHEV","x":2029,"v":46.3},{"k":"Petrol PHEV","x":2030,"v":47.3},{"k":"Petrol PHEV","x":2031,"v":46.3},{"k":"Petrol PHEV","x":2032,"v":47.3},{"k":"Petrol PHEV","x":2033,"v":45},{"k":"Petrol PHEV","x":2034,"v":45.8},{"k":"Petrol PHEV","x":2035,"v":46.3},{"k":"Petrol PHEV","x":2036,"v":47},{"k":"Petrol PHEV","x":2037,"v":47.3},{"k":"Petrol PHEV","x":2038,"v":47.3},{"k":"Petrol PHEV","x":2039,"v":48.6},{"k":"Petrol PHEV","x":2040,"v":47.5},{"k":"Petrol PHEV","x":2041,"v":47.5},{"k":"Petrol PHEV","x":2042,"v":47.5},{"k":"Petrol PHEV","x":2043,"v":47.5},{"k":"Petrol PHEV","x":2044,"v":48.3},{"k":"Petrol PHEV","x":2045,"v":41.9},{"k":"Petrol PHEV","x":2046,"v":41.6},{"k":"Petrol PHEV","x":2047,"v":41.6},{"k":"Petrol PHEV","x":2048,"v":42.5},{"k":"Petrol PHEV","x":2049,"v":44},{"k":"Petrol PHEV","x":2050,"v":45.8},
{"k":"BEV","x":2020,"v":2.2},{"k":"BEV","x":2021,"v":2.4},{"k":"BEV","x":2022,"v":3.9},{"k":"BEV","x":2023,"v":5.2},{"k":"BEV","x":2024,"v":7},{"k":"BEV","x":2025,"v":10.4},{"k":"BEV","x":2026,"v":11.9},{"k":"BEV","x":2027,"v":13.4},{"k":"BEV","x":2028,"v":14.8},{"k":"BEV","x":2029,"v":16.1},{"k":"BEV","x":2030,"v":17.9},{"k":"BEV","x":2031,"v":19.1},{"k":"BEV","x":2032,"v":19.4},{"k":"BEV","x":2033,"v":21.7},{"k":"BEV","x":2034,"v":22.2},{"k":"BEV","x":2035,"v":22.8},{"k":"BEV","x":2036,"v":24},{"k":"BEV","x":2037,"v":25},{"k":"BEV","x":2038,"v":25.3},{"k":"BEV","x":2039,"v":26.9},{"k":"BEV","x":2040,"v":28.5},{"k":"BEV","x":2041,"v":28.5},{"k":"BEV","x":2042,"v":30},{"k":"BEV","x":2043,"v":30},{"k":"BEV","x":2044,"v":30.8},{"k":"BEV","x":2045,"v":33.2},{"k":"BEV","x":2046,"v":33.9},{"k":"BEV","x":2047,"v":36},{"k":"BEV","x":2048,"v":36.5},{"k":"BEV","x":2049,"v":37.3},{"k":"BEV","x":2050,"v":38.3}
],
"uc": [
{"k":"Petrol ICE","x":2020,"v":60.6},{"k":"Petrol ICE","x":2021,"v":42.5},{"k":"Petrol ICE","x":2022,"v":34.7},{"k":"Petrol ICE","x":2023,"v":27.5},{"k":"Petrol ICE","x":2024,"v":20.2},{"k":"Petrol ICE","x":2025,"v":13.8},{"k":"Petrol ICE","x":2026,"v":11.6},{"k":"Petrol ICE","x":2027,"v":9.8},{"k":"Petrol ICE","x":2028,"v":8.5},{"k":"Petrol ICE","x":2029,"v":7.5},{"k":"Petrol ICE","x":2030,"v":6.7},{"k":"Petrol ICE","x":2031,"v":6.2},{"k":"Petrol ICE","x":2032,"v":5.7},{"k":"Petrol ICE","x":2033,"v":5.5},{"k":"Petrol ICE","x":2034,"v":4.7},{"k":"Petrol ICE","x":2035,"v":4.5},{"k":"Petrol ICE","x":2036,"v":4.1},{"k":"Petrol ICE","x":2037,"v":3.6},{"k":"Petrol ICE","x":2038,"v":3.3},{"k":"Petrol ICE","x":2039,"v":2.9},{"k":"Petrol ICE","x":2040,"v":2.6},{"k":"Petrol ICE","x":2041,"v":2.4},{"k":"Petrol ICE","x":2042,"v":2.2},{"k":"Petrol ICE","x":2043,"v":2.1},{"k":"Petrol ICE","x":2044,"v":2.1},{"k":"Petrol ICE","x":2045,"v":2},{"k":"Petrol ICE","x":2046,"v":1.8},{"k":"Petrol ICE","x":2047,"v":1.8},{"k":"Petrol ICE","x":2048,"v":1.8},{"k":"Petrol ICE","x":2049,"v":1.6},{"k":"Petrol ICE","x":2050,"v":1.3},
{"k":"Diesel ICE","x":2020,"v":21.2},{"k":"Diesel ICE","x":2021,"v":17.3},{"k":"Diesel ICE","x":2022,"v":14.5},{"k":"Diesel ICE","x":2023,"v":11.4},{"k":"Diesel ICE","x":2024,"v":8.1},{"k":"Diesel ICE","x":2025,"v":4.9},{"k":"Diesel ICE","x":2026,"v":3.4},{"k":"Diesel ICE","x":2027,"v":2.4},{"k":"Diesel ICE","x":2028,"v":1.9},{"k":"Diesel ICE","x":2029,"v":1.2},{"k":"Diesel ICE","x":2030,"v":0.7},{"k":"Diesel ICE","x":2031,"v":0.8},{"k":"Diesel ICE","x":2032,"v":0.7},{"k":"Diesel ICE","x":2033,"v":0.6},{"k":"Diesel ICE","x":2034,"v":0.6},{"k":"Diesel ICE","x":2035,"v":0.6},{"k":"Diesel ICE","x":2036,"v":0},
{"k":"Petrol HEV","x":2020,"v":7.6},{"k":"Petrol HEV","x":2021,"v":9.8},{"k":"Petrol HEV","x":2022,"v":12.4},{"k":"Petrol HEV","x":2023,"v":13.5},{"k":"Petrol HEV","x":2024,"v":13},{"k":"Petrol HEV","x":2025,"v":10},{"k":"Petrol HEV","x":2026,"v":9.5},{"k":"Petrol HEV","x":2027,"v":9},{"k":"Petrol HEV","x":2028,"v":8.1},{"k":"Petrol HEV","x":2029,"v":7.5},{"k":"Petrol HEV","x":2030,"v":6.7},{"k":"Petrol HEV","x":2031,"v":6.9},{"k":"Petrol HEV","x":2032,"v":6.7},{"k":"Petrol HEV","x":2033,"v":6.4},{"k":"Petrol HEV","x":2034,"v":5.9},{"k":"Petrol HEV","x":2035,"v":5.5},{"k":"Petrol HEV","x":2036,"v":5.5},{"k":"Petrol HEV","x":2037,"v":5.2},{"k":"Petrol HEV","x":2038,"v":4.7},{"k":"Petrol HEV","x":2039,"v":3.8},{"k":"Petrol HEV","x":2040,"v":3.6},{"k":"Petrol HEV","x":2041,"v":3.6},{"k":"Petrol HEV","x":2042,"v":3.4},{"k":"Petrol HEV","x":2043,"v":3.3},{"k":"Petrol HEV","x":2044,"v":3.1},{"k":"Petrol HEV","x":2045,"v":2.9},{"k":"Petrol HEV","x":2046,"v":2.8},{"k":"Petrol HEV","x":2047,"v":2.4},{"k":"Petrol HEV","x":2048,"v":1.8},{"k":"Petrol HEV","x":2049,"v":1.3},{"k":"Petrol HEV","x":2050,"v":1},
{"k":"Petrol PHEV","x":2020,"v":5.2},{"k":"Petrol PHEV","x":2021,"v":19.7},{"k":"Petrol PHEV","x":2022,"v":21.2},{"k":"Petrol PHEV","x":2023,"v":23.3},{"k":"Petrol PHEV","x":2024,"v":25.4},{"k":"Petrol PHEV","x":2025,"v":25.6},{"k":"Petrol PHEV","x":2026,"v":24.7},{"k":"Petrol PHEV","x":2027,"v":23.1},{"k":"Petrol PHEV","x":2028,"v":22.1},{"k":"Petrol PHEV","x":2029,"v":20.9},{"k":"Petrol PHEV","x":2030,"v":19.7},{"k":"Petrol PHEV","x":2031,"v":17.4},{"k":"Petrol PHEV","x":2032,"v":17.1},{"k":"Petrol PHEV","x":2033,"v":16.4},{"k":"Petrol PHEV","x":2034,"v":16.1},{"k":"Petrol PHEV","x":2035,"v":15.9},{"k":"Petrol PHEV","x":2036,"v":15.5},{"k":"Petrol PHEV","x":2037,"v":15.5},{"k":"Petrol PHEV","x":2038,"v":15.2},{"k":"Petrol PHEV","x":2039,"v":14.7},{"k":"Petrol PHEV","x":2040,"v":14.5},{"k":"Petrol PHEV","x":2041,"v":14.3},{"k":"Petrol PHEV","x":2042,"v":14},{"k":"Petrol PHEV","x":2043,"v":13.8},{"k":"Petrol PHEV","x":2044,"v":13.5},{"k":"Petrol PHEV","x":2045,"v":12.4},{"k":"Petrol PHEV","x":2046,"v":12.4},{"k":"Petrol PHEV","x":2047,"v":12.1},{"k":"Petrol PHEV","x":2048,"v":12.1},{"k":"Petrol PHEV","x":2049,"v":12.1},{"k":"Petrol PHEV","x":2050,"v":12.1},
{"k":"BEV","x":2020,"v":7.8},{"k":"BEV","x":2021,"v":11.9},{"k":"BEV","x":2022,"v":17.1},{"k":"BEV","x":2023,"v":23.8},{"k":"BEV","x":2024,"v":33.2},{"k":"BEV","x":2025,"v":46.3},{"k":"BEV","x":2026,"v":51.3},{"k":"BEV","x":2027,"v":56.5},{"k":"BEV","x":2028,"v":60.1},{"k":"BEV","x":2029,"v":63.2},{"k":"BEV","x":2030,"v":66.8},{"k":"BEV","x":2031,"v":69.1},{"k":"BEV","x":2032,"v":70.2},{"k":"BEV","x":2033,"v":71.8},{"k":"BEV","x":2034,"v":73.1},{"k":"BEV","x":2035,"v":74.1},{"k":"BEV","x":2036,"v":75.3},{"k":"BEV","x":2037,"v":76.5},{"k":"BEV","x":2038,"v":77.4},{"k":"BEV","x":2039,"v":78.8},{"k":"BEV","x":2040,"v":80},{"k":"BEV","x":2041,"v":80.1},{"k":"BEV","x":2042,"v":80.5},{"k":"BEV","x":2043,"v":81},{"k":"BEV","x":2044,"v":81.3},{"k":"BEV","x":2045,"v":82.6},{"k":"BEV","x":2046,"v":83.2},{"k":"BEV","x":2047,"v":83.9},{"k":"BEV","x":2048,"v":84.7},{"k":"BEV","x":2049,"v":85.3},{"k":"BEV","x":2050,"v":86}
],
"nuc": [
{"k":"Petrol ICE","x":2020,"v":60.1},{"k":"Petrol ICE","x":2021,"v":51.8},{"k":"Petrol ICE","x":2022,"v":46.1},{"k":"Petrol ICE","x":2023,"v":41.5},{"k":"Petrol ICE","x":2024,"v":36.3},{"k":"Petrol ICE","x":2025,"v":30.6},{"k":"Petrol ICE","x":2026,"v":28.2},{"k":"Petrol ICE","x":2027,"v":25.4},{"k":"Petrol ICE","x":2028,"v":23},{"k":"Petrol ICE","x":2029,"v":21},{"k":"Petrol ICE","x":2030,"v":20.4},{"k":"Petrol ICE","x":2031,"v":18.1},{"k":"Petrol ICE","x":2032,"v":16.1},{"k":"Petrol ICE","x":2033,"v":15.8},{"k":"Petrol ICE","x":2034,"v":14},{"k":"Petrol ICE","x":2035,"v":13.7},{"k":"Petrol ICE","x":2036,"v":13.3},{"k":"Petrol ICE","x":2037,"v":11.4},{"k":"Petrol ICE","x":2038,"v":11.4},{"k":"Petrol ICE","x":2039,"v":11.4},{"k":"Petrol ICE","x":2040,"v":9.8},{"k":"Petrol ICE","x":2041,"v":9.6},{"k":"Petrol ICE","x":2042,"v":8.8},{"k":"Petrol ICE","x":2043,"v":8.8},{"k":"Petrol ICE","x":2044,"v":8.8},{"k":"Petrol ICE","x":2045,"v":8.3},{"k":"Petrol ICE","x":2046,"v":7.6},{"k":"Petrol ICE","x":2047,"v":7.6},{"k":"Petrol ICE","x":2048,"v":8},{"k":"Petrol ICE","x":2049,"v":6.9},{"k":"Petrol ICE","x":2050,"v":6},
{"k":"Diesel ICE","x":2020,"v":27.5},{"k":"Diesel ICE","x":2021,"v":25.1},{"k":"Diesel ICE","x":2022,"v":22.3},{"k":"Diesel ICE","x":2023,"v":18.7},{"k":"Diesel ICE","x":2024,"v":15},{"k":"Diesel ICE","x":2025,"v":11.9},{"k":"Diesel ICE","x":2026,"v":9.8},{"k":"Diesel ICE","x":2027,"v":6.7},{"k":"Diesel ICE","x":2028,"v":6.2},{"k":"Diesel ICE","x":2029,"v":5.4},{"k":"Diesel ICE","x":2030,"v":3.4},{"k":"Diesel ICE","x":2031,"v":3.4},{"k":"Diesel ICE","x":2032,"v":3.1},{"k":"Diesel ICE","x":2033,"v":2.1},{"k":"Diesel ICE","x":2034,"v":2.1},{"k":"Diesel ICE","x":2035,"v":2.1},{"k":"Diesel ICE","x":2036,"v":0.2},
{"k":"Petrol HEV","x":2020,"v":7.8},{"k":"Petrol HEV","x":2021,"v":11.9},{"k":"Petrol HEV","x":2022,"v":16.6},{"k":"Petrol HEV","x":2023,"v":20.5},{"k":"Petrol HEV","x":2024,"v":22.8},{"k":"Petrol HEV","x":2025,"v":22.6},{"k":"Petrol HEV","x":2026,"v":23.8},{"k":"Petrol HEV","x":2027,"v":25.6},{"k":"Petrol HEV","x":2028,"v":25.1},{"k":"Petrol HEV","x":2029,"v":24.4},{"k":"Petrol HEV","x":2030,"v":23},{"k":"Petrol HEV","x":2031,"v":22.8},{"k":"Petrol HEV","x":2032,"v":22.3},{"k":"Petrol HEV","x":2033,"v":20.5},{"k":"Petrol HEV","x":2034,"v":18.4},{"k":"Petrol HEV","x":2035,"v":16.9},{"k":"Petrol HEV","x":2036,"v":17.4},{"k":"Petrol HEV","x":2037,"v":17.4},{"k":"Petrol HEV","x":2038,"v":16.6},{"k":"Petrol HEV","x":2039,"v":14.2},{"k":"Petrol HEV","x":2040,"v":14.2},{"k":"Petrol HEV","x":2041,"v":14.2},{"k":"Petrol HEV","x":2042,"v":14.2},{"k":"Petrol HEV","x":2043,"v":14.2},{"k":"Petrol HEV","x":2044,"v":13.3},{"k":"Petrol HEV","x":2045,"v":13.7},{"k":"Petrol HEV","x":2046,"v":14.2},{"k":"Petrol HEV","x":2047,"v":12.4},{"k":"Petrol HEV","x":2048,"v":9.8},{"k":"Petrol HEV","x":2049,"v":8.6},{"k":"Petrol HEV","x":2050,"v":7.6},
{"k":"Petrol PHEV","x":2020,"v":1.6},{"k":"Petrol PHEV","x":2021,"v":5.2},{"k":"Petrol PHEV","x":2022,"v":5.9},{"k":"Petrol PHEV","x":2023,"v":6.7},{"k":"Petrol PHEV","x":2024,"v":7.3},{"k":"Petrol PHEV","x":2025,"v":8},{"k":"Petrol PHEV","x":2026,"v":7.8},{"k":"Petrol PHEV","x":2027,"v":8.3},{"k":"Petrol PHEV","x":2028,"v":8.6},{"k":"Petrol PHEV","x":2029,"v":9},{"k":"Petrol PHEV","x":2030,"v":9.5},{"k":"Petrol PHEV","x":2031,"v":9.3},{"k":"Petrol PHEV","x":2032,"v":9.6},{"k":"Petrol PHEV","x":2033,"v":9.8},{"k":"Petrol PHEV","x":2034,"v":10.2},{"k":"Petrol PHEV","x":2035,"v":10.4},{"k":"Petrol PHEV","x":2036,"v":10.4},{"k":"Petrol PHEV","x":2037,"v":10.4},{"k":"Petrol PHEV","x":2038,"v":10.6},{"k":"Petrol PHEV","x":2039,"v":10.9},{"k":"Petrol PHEV","x":2040,"v":10},{"k":"Petrol PHEV","x":2041,"v":10},{"k":"Petrol PHEV","x":2042,"v":10},{"k":"Petrol PHEV","x":2043,"v":10},{"k":"Petrol PHEV","x":2044,"v":10},{"k":"Petrol PHEV","x":2045,"v":9},{"k":"Petrol PHEV","x":2046,"v":8.6},{"k":"Petrol PHEV","x":2047,"v":8.8},{"k":"Petrol PHEV","x":2048,"v":9.5},{"k":"Petrol PHEV","x":2049,"v":9.8},{"k":"Petrol PHEV","x":2050,"v":10.2},
{"k":"BEV","x":2020,"v":4.1},{"k":"BEV","x":2021,"v":6.2},{"k":"BEV","x":2022,"v":9.3},{"k":"BEV","x":2023,"v":13.3},{"k":"BEV","x":2024,"v":18.7},{"k":"BEV","x":2025,"v":27.7},{"k":"BEV","x":2026,"v":31.6},{"k":"BEV","x":2027,"v":34.9},{"k":"BEV","x":2028,"v":38},{"k":"BEV","x":2029,"v":41.5},{"k":"BEV","x":2030,"v":45.1},{"k":"BEV","x":2031,"v":47.4},{"k":"BEV","x":2032,"v":49.4},{"k":"BEV","x":2033,"v":52.8},{"k":"BEV","x":2034,"v":56.5},{"k":"BEV","x":2035,"v":58.3},{"k":"BEV","x":2036,"v":59.6},{"k":"BEV","x":2037,"v":61.7},{"k":"BEV","x":2038,"v":62.2},{"k":"BEV","x":2039,"v":64.2},{"k":"BEV","x":2040,"v":66.3},{"k":"BEV","x":2041,"v":66.3},{"k":"BEV","x":2042,"v":67},{"k":"BEV","x":2043,"v":67.2},{"k":"BEV","x":2044,"v":67.9},{"k":"BEV","x":2045,"v":68.7},{"k":"BEV","x":2046,"v":69.6},{"k":"BEV","x":2047,"v":71.5},{"k":"BEV","x":2048,"v":73.6},{"k":"BEV","x":2049,"v":74.9},{"k":"BEV","x":2050,"v":76.5}
]
},
"concat": [
 {"title": {"text": "Trailblazers", "offset": -5}, "width": 482, "height": 324,
  "layer": [
   {"data": {"values": [{}]},
    "mark": {"type": "text", "text": "CONFIDENTIAL", "font": "Liberation Sans", "fontSize": 195, "angle": -45, "color": "#C0C0C0", "stroke": "#C0C0C0", "strokeWidth": 4, "align": "center", "baseline": "alphabetic"},
    "encoding": {"x": {"datum": 2053.76, "type": "quantitative", "scale": {"domain": [2020, 2050], "nice": false, "zero": false}}, "y": {"datum": -192.8, "type": "quantitative", "scale": {"domain": [0, 100], "nice": false}}}},
   {"data": {"name": "tb"}, "mark": {"type": "line", "strokeWidth": 4.5},
    "encoding": {
     "x": {"field": "x", "type": "quantitative", "title": null, "scale": {"domain": [2020, 2050], "nice": false, "zero": false}, "axis": {"format": "d", "values": [2020, 2025, 2030, 2035, 2040, 2045, 2050]}},
     "y": {"field": "v", "type": "quantitative", "title": null, "scale": {"domain": [0, 100], "nice": false}, "axis": {"values": [0, 20, 40, 60, 80, 100], "labelExpr": "datum.value + '%'", "gridOpacity": {"condition": {"test": "datum.value == 0 || datum.value == 100", "value": 0}, "value": 1}}},
     "color": {"field": "k", "type": "nominal", "title": null, "scale": {"domain": ["Petrol ICE", "Diesel ICE", "Petrol HEV", "Petrol PHEV", "BEV"], "range": ["#808080", "#C0C0C0", "#FF8C3A", "#C00000", "#3A6499"]}}
    }}
  ]},
 {"title": {"text": "Wealthy Adopters", "offset": 6}, "width": 482, "height": 324, "data": {"name": "wa"}, "mark": {"type": "line", "strokeWidth": 4.5},
  "encoding": {
   "x": {"field": "x", "type": "quantitative", "title": null, "scale": {"domain": [2020, 2050], "nice": false, "zero": false}, "axis": {"format": "d", "values": [2020, 2025, 2030, 2035, 2040, 2045, 2050]}},
   "y": {"field": "v", "type": "quantitative", "title": null, "scale": {"domain": [0, 100], "nice": false}, "axis": {"values": [0, 20, 40, 60, 80, 100], "labels": false, "gridOpacity": {"condition": {"test": "datum.value == 0 || datum.value == 100", "value": 0}, "value": 1}}},
   "color": {"field": "k", "type": "nominal", "title": null, "scale": {"domain": ["Petrol ICE", "Diesel ICE", "Petrol HEV", "Petrol PHEV", "BEV"], "range": ["#808080", "#C0C0C0", "#FF8C3A", "#C00000", "#3A6499"]}}
  }},
 {"title": {"text": "Environmentalists", "offset": -5}, "width": 482, "height": 324, "data": {"name": "en"}, "mark": {"type": "line", "strokeWidth": 4.5},
  "encoding": {
   "x": {"field": "x", "type": "quantitative", "title": null, "scale": {"domain": [2020, 2050], "nice": false, "zero": false}, "axis": {"format": "d", "values": [2020, 2025, 2030, 2035, 2040, 2045, 2050]}},
   "y": {"field": "v", "type": "quantitative", "title": null, "scale": {"domain": [0, 100], "nice": false}, "axis": {"values": [0, 20, 40, 60, 80, 100], "labelExpr": "datum.value + '%'", "gridOpacity": {"condition": {"test": "datum.value == 0 || datum.value == 100", "value": 0}, "value": 1}}},
   "color": {"field": "k", "type": "nominal", "title": null, "scale": {"domain": ["Petrol ICE", "Diesel ICE", "Petrol HEV", "Petrol PHEV", "BEV"], "range": ["#808080", "#C0C0C0", "#FF8C3A", "#C00000", "#3A6499"]}}
  }},
 {"title": {"text": "Cost Conscious Greens", "offset": 6}, "width": 482, "height": 324, "data": {"name": "ccg"}, "mark": {"type": "line", "strokeWidth": 4.5},
  "encoding": {
   "x": {"field": "x", "type": "quantitative", "title": null, "scale": {"domain": [2020, 2050], "nice": false, "zero": false}, "axis": {"format": "d", "values": [2020, 2025, 2030, 2035, 2040, 2045, 2050]}},
   "y": {"field": "v", "type": "quantitative", "title": null, "scale": {"domain": [0, 100], "nice": false}, "axis": {"values": [0, 20, 40, 60, 80, 100], "labels": false, "gridOpacity": {"condition": {"test": "datum.value == 0 || datum.value == 100", "value": 0}, "value": 1}}},
   "color": {"field": "k", "type": "nominal", "title": null, "scale": {"domain": ["Petrol ICE", "Diesel ICE", "Petrol HEV", "Petrol PHEV", "BEV"], "range": ["#808080", "#C0C0C0", "#FF8C3A", "#C00000", "#3A6499"]}}
  }},
 {"title": {"text": "Uninterested Rejectors", "offset": -5}, "width": 482, "height": 324, "data": {"name": "ur"}, "mark": {"type": "line", "strokeWidth": 4.5},
  "encoding": {
   "x": {"field": "x", "type": "quantitative", "title": null, "scale": {"domain": [2020, 2050], "nice": false, "zero": false}, "axis": {"format": "d", "values": [2020, 2025, 2030, 2035, 2040, 2045, 2050]}},
   "y": {"field": "v", "type": "quantitative", "title": null, "scale": {"domain": [0, 100], "nice": false}, "axis": {"values": [0, 20, 40, 60, 80, 100], "labelExpr": "datum.value + '%'", "gridOpacity": {"condition": {"test": "datum.value == 0 || datum.value == 100", "value": 0}, "value": 1}}},
   "color": {"field": "k", "type": "nominal", "title": null, "scale": {"domain": ["Petrol ICE", "Diesel ICE", "Petrol HEV", "Petrol PHEV", "BEV"], "range": ["#808080", "#C0C0C0", "#FF8C3A", "#C00000", "#3A6499"]}}
  }},
 {"title": {"text": "Unmet Needs", "offset": 6}, "width": 482, "height": 324, "data": {"name": "un"}, "mark": {"type": "line", "strokeWidth": 4.5},
  "encoding": {
   "x": {"field": "x", "type": "quantitative", "title": null, "scale": {"domain": [2020, 2050], "nice": false, "zero": false}, "axis": {"format": "d", "values": [2020, 2025, 2030, 2035, 2040, 2045, 2050]}},
   "y": {"field": "v", "type": "quantitative", "title": null, "scale": {"domain": [0, 100], "nice": false}, "axis": {"values": [0, 20, 40, 60, 80, 100], "labels": false, "gridOpacity": {"condition": {"test": "datum.value == 0 || datum.value == 100", "value": 0}, "value": 1}}},
   "color": {"field": "k", "type": "nominal", "title": null, "scale": {"domain": ["Petrol ICE", "Diesel ICE", "Petrol HEV", "Petrol PHEV", "BEV"], "range": ["#808080", "#C0C0C0", "#FF8C3A", "#C00000", "#3A6499"]}}
  }},
 {"title": {"text": "User Choosers", "offset": -5}, "width": 482, "height": 324, "data": {"name": "uc"}, "mark": {"type": "line", "strokeWidth": 4.5},
  "encoding": {
   "x": {"field": "x", "type": "quantitative", "title": null, "scale": {"domain": [2020, 2050], "nice": false, "zero": false}, "axis": {"format": "d", "values": [2020, 2025, 2030, 2035, 2040, 2045, 2050]}},
   "y": {"field": "v", "type": "quantitative", "title": null, "scale": {"domain": [0, 100], "nice": false}, "axis": {"values": [0, 20, 40, 60, 80, 100], "labelExpr": "datum.value + '%'", "gridOpacity": {"condition": {"test": "datum.value == 0 || datum.value == 100", "value": 0}, "value": 1}}},
   "color": {"field": "k", "type": "nominal", "title": null, "scale": {"domain": ["Petrol ICE", "Diesel ICE", "Petrol HEV", "Petrol PHEV", "BEV"], "range": ["#808080", "#C0C0C0", "#FF8C3A", "#C00000", "#3A6499"]}}
  }},
 {"title": {"text": "Non-User Choosers", "offset": 6}, "width": 482, "height": 324, "data": {"name": "nuc"}, "mark": {"type": "line", "strokeWidth": 4.5},
  "encoding": {
   "x": {"field": "x", "type": "quantitative", "title": null, "scale": {"domain": [2020, 2050], "nice": false, "zero": false}, "axis": {"format": "d", "values": [2020, 2025, 2030, 2035, 2040, 2045, 2050]}},
   "y": {"field": "v", "type": "quantitative", "title": null, "scale": {"domain": [0, 100], "nice": false}, "axis": {"values": [0, 20, 40, 60, 80, 100], "labels": false, "gridOpacity": {"condition": {"test": "datum.value == 0 || datum.value == 100", "value": 0}, "value": 1}}},
   "color": {"field": "k", "type": "nominal", "title": null, "scale": {"domain": ["Petrol ICE", "Diesel ICE", "Petrol HEV", "Petrol PHEV", "BEV"], "range": ["#808080", "#C0C0C0", "#FF8C3A", "#C00000", "#3A6499"]}}
  }}
]
}
